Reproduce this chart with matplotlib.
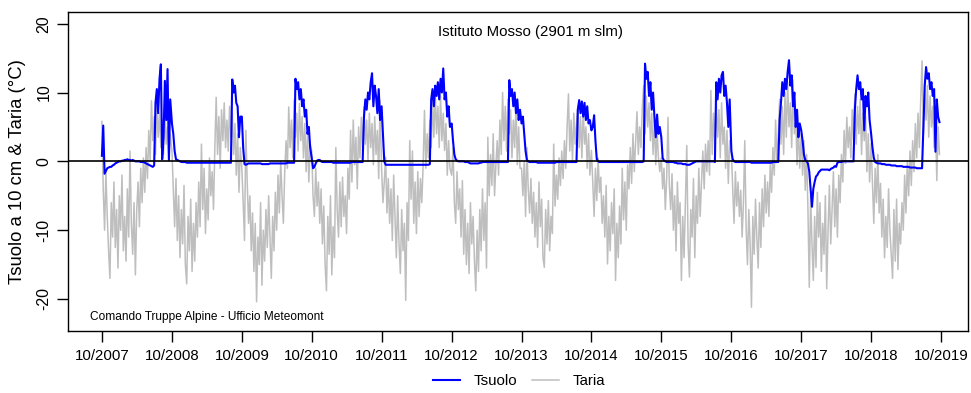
import matplotlib
matplotlib.use("Agg")
import matplotlib.pyplot as plt
from matplotlib.lines import Line2D
import pandas as pd
from datetime import datetime

plt.rcParams['font.family'] = ['Liberation Sans', 'DejaVu Sans']

# ---- Data: weekly readings, each list = one hydrological year starting 1 October ----
years = [2007, 2008, 2009, 2010, 2011, 2012, 2013, 2014, 2015, 2016, 2017, 2018]
tick_labels = ["10/2007", "10/2008", "10/2009", "10/2010", "10/2011", "10/2012",
               "10/2013", "10/2014", "10/2015", "10/2016", "10/2017", "10/2018", "10/2019"]

tsuolo_2007 = [0.8, 5.2, -1.8, -1.4, -1.0, -0.9, -0.8, -0.8, -0.6, -0.5,
               -0.3, -0.2, -0.1, 0.0, 0.0, 0.1, 0.1, 0.2, 0.2, 0.3,
               0.2, 0.2, 0.1, 0.2, 0.1, 0.0, 0.0, 0.0, 0.0, -0.1,
               -0.1, -0.1, -0.2, -0.3, -0.4, -0.5, -0.6, -0.7, -0.8, -0.6,
               8.5, 10.5, 7.0, 12.0, 14.1, 0.3, 3.5, 11.7, 6.0, 13.4, 0.2, 9.0]
tsuolo_2008 = [5.5, 4.0, 1.5, 0.3, 0.2, 0.1, 0.0, -0.1, -0.1, -0.1,
               -0.1, -0.2, -0.2, -0.2, -0.2, -0.2, -0.2, -0.2, -0.2, -0.2,
               -0.2, -0.2, -0.2, -0.2, -0.2, -0.2, -0.2, -0.2, -0.2, -0.2,
               -0.2, -0.2, -0.2, -0.2, -0.2, -0.2, -0.2, -0.2, -0.2, -0.2,
               -0.2, -0.2, -0.2, -0.2, -0.2, 11.9, 10.0, 11.0, 8.5, 8.0, 3.5, 6.5]
tsuolo_2009 = [6.5, 2.0, -0.4, -0.5, -0.4, -0.3, -0.3, -0.3, -0.3, -0.3,
               -0.3, -0.3, -0.3, -0.3, -0.3, -0.4, -0.4, -0.4, -0.4, -0.4,
               -0.4, -0.3, -0.3, -0.3, -0.3, -0.3, -0.3, -0.3, -0.3, -0.3,
               -0.3, -0.3, -0.3, -0.3, -0.2, -0.2, -0.2, -0.2, -0.2, -0.2,
               12.0, 10.5, 11.5, 9.0, 10.5, 8.0, 9.0, 6.5, 7.5, 4.0, 5.0, 2.0]
tsuolo_2010 = [0.5, -1.0, -0.8, -0.3, 0.1, 0.2, 0.2, 0.0, -0.1, -0.1,
               -0.1, -0.1, -0.1, -0.1, -0.1, -0.1, -0.2, -0.2, -0.2, -0.2,
               -0.2, -0.2, -0.2, -0.2, -0.2, -0.2, -0.2, -0.2, -0.2, -0.2,
               -0.1, -0.1, -0.1, -0.1, -0.1, -0.1, -0.1, -0.1, -0.1, 6.5,
               9.0, 7.5, 10.0, 9.0, 11.5, 12.8, 8.0, 11.0, 9.5, 7.0, 10.5, 6.0]
tsuolo_2011 = [8.0, 4.0, 0.0, -0.5, -0.5, -0.5, -0.5, -0.5, -0.5, -0.5,
               -0.5, -0.5, -0.5, -0.5, -0.5, -0.5, -0.5, -0.5, -0.5, -0.5,
               -0.5, -0.5, -0.5, -0.5, -0.5, -0.5, -0.5, -0.5, -0.5, -0.5,
               -0.5, -0.5, -0.5, -0.5, -0.5, -0.5, -0.4, 9.0, 10.5, 8.0,
               11.0, 9.5, 11.5, 9.0, 12.0, 10.0, 13.5, 9.0, 10.0, 6.5, 8.0, 5.0]
tsuolo_2012 = [5.5, 3.0, 1.0, 0.3, 0.1, 0.0, 0.0, 0.0, 0.0, 0.0,
               -0.1, -0.1, -0.1, -0.2, -0.3, -0.3, -0.3, -0.3, -0.3, -0.3,
               -0.3, -0.2, -0.2, -0.1, -0.1, -0.1, -0.1, -0.1, -0.1, -0.1,
               -0.1, -0.1, -0.1, -0.1, -0.1, -0.1, -0.1, -0.1, -0.1, -0.1,
               -0.1, -0.1, -0.1, 11.8, 9.5, 10.5, 8.0, 10.0, 7.0, 9.0, 6.0, 7.5]
tsuolo_2013 = [5.5, 6.5, 4.0, 1.5, 0.2, 0.0, -0.1, -0.1, -0.1, -0.1,
               -0.1, -0.1, -0.2, -0.2, -0.2, -0.2, -0.2, -0.2, -0.2, -0.2,
               -0.2, -0.2, -0.2, -0.2, -0.2, -0.2, -0.1, -0.1, -0.1, -0.1,
               -0.1, -0.1, -0.1, -0.1, -0.1, -0.1, -0.1, -0.1, -0.1, -0.1,
               -0.1, -0.1, 7.5, 8.9, 7.0, 8.7, 6.5, 8.5, 6.0, 8.0, 5.5, 6.0]
tsuolo_2014 = [4.5, 5.0, 6.7, 3.0, 0.3, 0.0, -0.1, -0.1, -0.1, -0.1,
               -0.1, -0.1, -0.1, -0.1, -0.1, -0.1, -0.1, -0.1, -0.1, -0.1,
               -0.1, -0.1, -0.1, -0.1, -0.1, -0.1, -0.1, -0.1, -0.1, -0.1,
               -0.1, -0.1, -0.1, -0.1, -0.1, -0.1, -0.1, -0.1, -0.1, 0.0,
               14.2, 12.0, 13.0, 9.5, 11.5, 7.5, 10.0, 6.5, 3.5, 6.8, 4.0, 5.0]
tsuolo_2015 = [3.5, 0.5, 0.1, 0.0, -0.1, -0.1, -0.1, -0.1, -0.1, -0.1,
               -0.2, -0.2, -0.3, -0.3, -0.3, -0.3, -0.4, -0.4, -0.4, -0.5,
               -0.5, -0.5, -0.4, -0.3, -0.2, -0.1, 0.0, 0.0, 0.0, 0.0,
               0.0, 0.0, 0.0, 0.0, 0.0, 0.0, 0.0, 0.0, 0.0, 0.0,
               -0.1, 11.5, 9.0, 12.0, 10.0, 12.5, 13.0, 9.5, 11.0, 8.5, 5.0, 9.0]
tsuolo_2016 = [1.5, 0.3, 0.0, -0.1, -0.1, -0.1, -0.1, -0.1, -0.1, -0.1,
               -0.1, -0.1, -0.1, -0.1, -0.1, -0.2, -0.2, -0.2, -0.2, -0.2,
               -0.2, -0.2, -0.2, -0.2, -0.2, -0.2, -0.2, -0.2, -0.2, -0.2,
               -0.2, -0.1, -0.1, -0.1, -0.1, -0.1, 6.0, 8.5, 11.5, 9.5,
               12.0, 10.5, 13.0, 14.7, 11.0, 12.5, 8.0, 10.0, 5.0, 7.5, 3.5, 5.5]
tsuolo_2017 = [4.5, 3.0, 1.0, 0.2, 0.0, -0.3, -1.5, -4.0, -6.6, -4.0,
               -3.0, -2.2, -2.0, -1.6, -1.4, -1.2, -1.2, -1.2, -1.2, -1.2,
               -1.2, -1.3, -1.1, -1.0, -0.9, -0.7, -0.8, -0.2, -0.1, -0.1,
               -0.1, 0.0, 0.0, 0.0, 0.0, 0.0, 0.0, 0.0, 0.0, 0.0,
               7.5, 10.5, 12.5, 10.5, 11.5, 9.0, 10.5, 4.5, 9.5, 8.0, 10.0, 6.0]
tsuolo_2018 = [4.0, 2.0, 0.5, -0.1, -0.2, -0.3, -0.3, -0.3, -0.4, -0.4,
               -0.4, -0.5, -0.5, -0.5, -0.5, -0.6, -0.6, -0.6, -0.6, -0.7,
               -0.7, -0.7, -0.7, -0.7, -0.8, -0.8, -0.8, -0.8, -0.8, -0.9,
               -0.9, -0.9, -0.9, -0.9, -1.0, -1.0, -1.0, -1.0, -1.0, 5.0,
               11.0, 13.7, 12.0, 12.8, 10.5, 11.5, 9.5, 10.5, 1.4, 9.0, 6.5, 5.7]

taria_2007 = [5.8, -4.0, -10.0, -1.5, -8.0, -13.0, -17.0, -6.0, -11.0, -3.0,
              -12.5, -7.0, -15.5, -5.0, -10.0, -2.0, -13.0, -8.0, -14.5, -4.0,
              -11.0, 1.5, -9.0, -13.5, -6.0, -16.5, -7.0, -3.0, -9.5, -1.0,
              -6.0, 0.5, -4.5, 2.0, -2.5, 4.5, 0.0, 8.8, 3.0, 6.5,
              1.0, 8.0, 3.5, 7.0, 2.0, 6.0, 1.0, 7.5, 2.5, 5.0, 0.0, 4.0]
taria_2008 = [1.5, -4.0, -9.5, -2.5, -11.5, -5.0, -14.0, -7.0, -12.0, -3.5,
              -15.0, -17.8, -8.0, -13.0, -5.5, -16.0, -9.0, -14.5, -6.0, -11.0,
              -3.0, -9.5, 2.5, -7.0, -1.0, -10.5, -4.0, -8.5, 0.5, -5.0,
              -1.5, -7.0, 2.0, 9.3, 1.0, 6.5, -1.0, 7.5, 3.0, 8.5,
              2.0, 6.0, 1.5, 8.0, 3.5, 7.0, 1.0, 5.5, -2.0, 4.0, -4.5, 2.0]
taria_2009 = [-1.0, -6.0, -11.5, 4.5, -3.0, -9.0, -5.0, -13.0, -7.5, -16.0,
              -9.0, -20.4, -11.0, -15.0, -6.0, -18.0, -10.0, -14.5, -7.0, -12.5,
              -5.0, -11.0, -17.0, -8.0, -13.0, -4.5, -10.0, -2.0, -7.5, 0.0,
              -5.0, -9.0, -1.5, 3.0, -1.0, 7.9, 2.0, 6.0, 0.5, 8.9,
              3.5, 7.0, 1.5, 8.4, 3.0, 6.5, 0.5, 5.5, -1.5, 4.0, -3.0, 2.5]
taria_2010 = [1.5, -5.0, -8.0, -1.0, -6.5, -3.0, -9.0, -4.0, -12.0, -6.5,
              -15.0, -18.8, -8.0, -13.5, -5.0, -16.5, -9.5, -14.0, 2.0, -7.0,
              -11.0, -3.0, -9.5, -2.3, -8.0, -5.0, -10.5, -1.0, -5.5, 4.5,
              -3.0, 6.0, -0.5, 3.5, -4.0, 5.0, 0.5, 6.4, 1.5, 7.9,
              2.5, 6.0, 0.0, 7.0, 2.0, 5.5, -0.5, 6.5, 1.0, 4.5, -2.5, 8.9]
taria_2011 = [-1.0, -6.0, -3.0, 0.6, -7.5, -2.5, -9.0, -4.0, -11.5, -2.0,
              -8.0, -14.0, -5.0, -12.0, -16.3, -7.0, -13.0, -9.0, -20.2, -6.0,
              -11.5, 3.0, -5.5, 1.5, -9.0, -3.0, -10.5, -1.5, -8.0, -2.5,
              -6.0, -0.5, 7.4, -1.0, 4.0, 0.5, 6.0, 2.0, 9.0, 3.5,
              10.0, 4.0, 8.0, 2.0, 9.5, 3.0, 7.0, 1.6, 5.5, -2.0, 3.0, -1.0]
taria_2012 = [-2.0, 2.0, -6.0, -9.0, -1.5, -7.0, -4.0, -11.0, -2.8, -13.5,
              -7.0, -15.0, -9.0, -16.3, -6.0, -12.0, -8.0, -14.5, -18.8, -10.0,
              -16.0, -7.0, -13.0, -4.0, -11.5, -6.0, -15.5, 3.5, -5.0, 1.0,
              -3.5, 4.0, -5.0, -0.5, 3.0, -2.0, 6.0, 1.0, 10.0, 3.0,
              8.0, 1.5, 9.0, 4.0, 7.5, 0.5, 6.0, 2.0, 8.5, -0.5, 5.0, -1.0]
taria_2013 = [-1.0, -5.0, 0.0, -8.0, 2.0, -4.0, -7.5, -2.5, -9.0, -4.5,
              -11.0, -6.0, -12.5, -3.0, -9.5, -5.5, -14.0, -15.4, -7.0, -12.0,
              -5.7, -13.0, -8.0, -10.5, 2.5, -6.5, -2.0, -5.5, 0.5, -3.5,
              1.5, -2.5, 3.0, -1.0, 5.0, 9.8, 1.5, 6.0, 0.0, 7.0,
              2.5, 5.5, 8.0, 2.0, 6.5, 0.5, 7.5, 2.5, 5.0, -1.0, 4.0, -2.0]
taria_2014 = [1.6, -3.0, -8.0, -1.0, -5.7, 0.5, -4.5, -2.3, -9.0, -5.0,
              -11.0, -3.5, -14.9, -8.0, -13.0, -6.0, -10.5, -4.0, -17.3, -9.0,
              -14.0, -6.5, -12.0, -1.0, -8.5, -3.0, -10.0, -0.5, -4.0, 2.0,
              -3.2, 4.0, -1.5, 3.0, 7.2, 1.0, 5.0, 2.0, 8.0, 11.0,
              4.0, 9.5, 5.0, 8.5, 3.0, 7.0, 1.0, 6.0, -0.5, 4.5, 0.5, -1.5]
taria_2015 = [0.5, -4.0, -1.0, -7.0, -2.5, 6.4, -3.5, -7.0, -1.8, -10.0,
              -5.0, -13.0, -3.0, -9.0, -6.0, -17.3, -8.0, -14.0, -5.7, 2.3,
              -12.0, -16.8, -7.0, -11.0, -2.5, -14.0, -5.0, -9.0, -1.0, -8.0,
              -3.0, 1.5, -4.0, 2.5, -1.5, 3.0, -2.0, 10.3, 1.0, 7.0,
              2.0, 9.0, 3.5, 7.5, 0.5, 8.5, 2.5, 5.0, -1.0, 4.5, -3.2, 3.0]
taria_2016 = [1.6, -4.0, -9.0, -1.5, -6.5, -3.0, -8.0, -4.2, -11.0, -6.0,
              3.0, -9.5, -15.0, -7.0, -12.0, -21.2, -8.0, -13.5, -5.5, -11.0,
              -15.5, -6.0, -12.5, -4.0, -9.5, -2.0, -7.5, -3.0, -8.0, -0.5,
              -4.5, 2.0, -2.0, 6.0, 0.0, 4.0, 9.0, 2.5, 8.0, 1.0,
              10.0, 3.5, 11.5, 5.0, 8.5, 2.0, 11.8, 4.0, 7.0, -0.5, 5.5, -1.0]
taria_2017 = [4.0, -2.0, 3.0, -4.2, 1.0, -7.0, -18.3, -5.0, -12.0, -17.3,
              -8.0, -15.4, -4.5, -11.0, -6.0, -16.0, -9.0, -13.5, -5.0, -18.5,
              -10.0, -3.5, -12.0, -7.0, -1.5, -9.5, -4.0, -11.0, -2.0, -6.0,
              1.0, -3.0, 4.5, -0.3, 6.4, 2.0, 5.0, 0.5, 7.5, 3.0,
              9.8, 2.5, 8.0, 4.0, 9.0, 1.0, 7.0, 3.0, 6.5, -1.5, 4.0, -3.0]
taria_2018 = [2.6, -3.0, -9.0, -1.0, -6.0, 1.0, -7.5, -3.2, -11.0, -5.5,
              -14.0, -8.0, -12.5, -4.0, -10.0, -13.5, -17.0, -7.0, -14.5, -5.5,
              -15.7, -9.0, -12.0, -6.0, -10.0, -2.0, -7.5, 0.0, -5.0, 1.5,
              -3.5, 3.0, -1.5, 5.5, 0.5, 7.0, 2.0, 9.0, 14.6, 4.0,
              10.5, 6.0, 11.0, 3.5, 9.5, 5.0, 8.0, 2.0, 6.5, -2.8, 5.0, 1.0]

tsuolo_years = [tsuolo_2007, tsuolo_2008, tsuolo_2009, tsuolo_2010, tsuolo_2011, tsuolo_2012,
                tsuolo_2013, tsuolo_2014, tsuolo_2015, tsuolo_2016, tsuolo_2017, tsuolo_2018]
taria_years = [taria_2007, taria_2008, taria_2009, taria_2010, taria_2011, taria_2012,
               taria_2013, taria_2014, taria_2015, taria_2016, taria_2017, taria_2018]

dates, tsuolo, taria = [], [], []
for y, ts, ta in zip(years, tsuolo_years, taria_years):
    d = pd.date_range(f"{y}-10-01", periods=len(ts), freq="7D")
    dates.extend(list(d.to_pydatetime()))
    tsuolo.extend(ts)
    taria.extend(ta)

# ---- Figure ----
W, H = 971, 393
fig = plt.figure(figsize=(W / 100, H / 100), dpi=100)
ax = fig.add_axes([68 / W, 1 - 331 / H, (968 - 68) / W, (331 - 12) / H])

ax.plot(dates, taria, color="#bebebe", lw=1.1, zorder=2)
ax.plot(dates, tsuolo, color="#0000ff", lw=1.5, zorder=3)
ax.axhline(0, color="black", lw=1.2, zorder=4)

ax.set_xlim(datetime(2007, 4, 7), datetime(2020, 2, 19))
ax.set_ylim(-24.65, 21.7)

tick_dates = [datetime(2007 + i, 10, 1) for i in range(len(tick_labels))]
ax.set_xticks(tick_dates)
ax.set_xticklabels(tick_labels)
ax.set_yticks([-20, -10, 0, 10, 20])
ax.set_yticklabels(["-20", "-10", "0", "10", "20"], rotation=90, va="center")

ax.tick_params(axis="both", direction="out", length=8, width=1, colors="black",
               labelsize=10.8)
ax.tick_params(axis="x", pad=5)
ax.tick_params(axis="y", pad=4, labelsize=11.5)
for s in ax.spines.values():
    s.set_linewidth(1.0)
    s.set_color("black")

fig.text(18 / W, 1 - 172 / H, "Tsuolo a 10 cm & Taria (°C)", rotation=90,
         ha="center", va="center", fontsize=13.3)
fig.text(530 / W, 1 - 32 / H, "Istituto Mosso (2901 m slm)", ha="center",
         va="center", fontsize=10.8)
fig.text(90 / W, 1 - 317 / H, "Comando Truppe Alpine - Ufficio Meteomont",
         ha="left", va="center", fontsize=8.6)

handles = [Line2D([], [], color="#0000ff", lw=1.5),
           Line2D([], [], color="#bebebe", lw=1.1)]
fig.legend(handles, ["Tsuolo", "Taria"], loc="center",
           bbox_to_anchor=(519 / W, 1 - 381 / H), ncol=2, frameon=False,
           fontsize=10.8, handlelength=1.8, handletextpad=0.9, columnspacing=1.0)

fig.savefig("out.png", dpi=100)
